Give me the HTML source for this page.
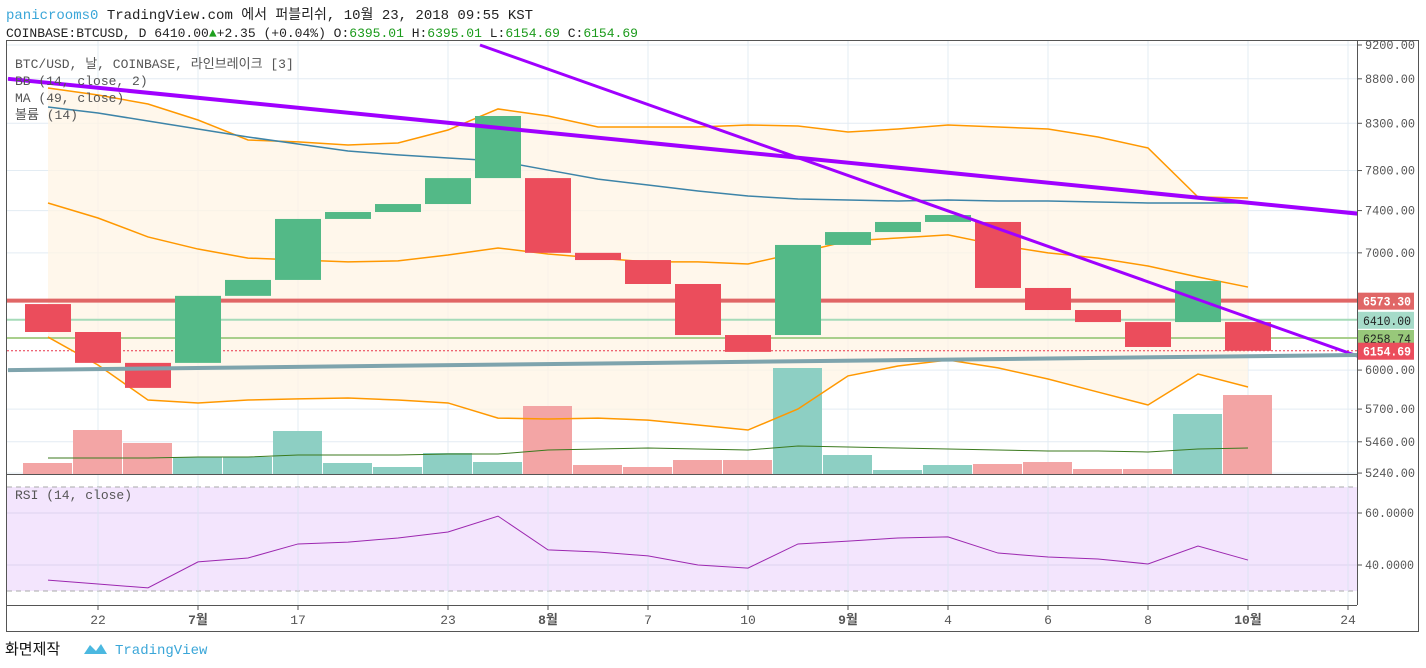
<!DOCTYPE html>
<html><head><meta charset="utf-8">
<style>
html,body{margin:0;padding:0;background:#fff;width:1426px;height:668px;overflow:hidden;font-family:"Liberation Mono","Noto Sans CJK KR",monospace;}
svg text{font-family:"Liberation Mono","Noto Sans CJK KR",monospace;}
</style></head>
<body>
<svg id="chart" width="1426" height="668" xmlns="http://www.w3.org/2000/svg">
<defs><clipPath id="pc"><rect x="7" y="41" width="1350" height="564"/></clipPath></defs>
<text x="6" y="19" font-size="14"><tspan fill="#3aa6d8">panicrooms0</tspan><tspan fill="#222"> TradingView.com 에서 퍼블리쉬, 10월 23, 2018 09:55 KST</tspan></text>
<text x="6" y="37" font-size="13" fill="#222">COINBASE:BTCUSD, D 6410.00<tspan fill="#1ea01e">▲</tspan>+2.35 (+0.04%) O:<tspan fill="#1a9a1a">6395.01</tspan> H:<tspan fill="#1a9a1a">6395.01</tspan> L:<tspan fill="#1a9a1a">6154.69</tspan> C:<tspan fill="#1a9a1a">6154.69</tspan></text>
<g id="grid" clip-path="url(#pc)"></g>
<g id="plot" clip-path="url(#pc)"></g>
<rect x="6.5" y="40.5" width="1412" height="591" fill="none" stroke="#555"/>
<line x1="1357.5" y1="40" x2="1357.5" y2="605" stroke="#555"/>
<line x1="6" y1="474.5" x2="1357" y2="474.5" stroke="#555"/>
<line x1="6" y1="605.5" x2="1357" y2="605.5" stroke="#555"/>
<text x="15" y="68" font-size="13" fill="#555">BTC/USD, 날, COINBASE, 라인브레이크 [3]</text>
<text x="15" y="85" font-size="13" fill="#555">BB (14, close, 2)</text>
<text x="15" y="102" font-size="13" fill="#555">MA (49, close)</text>
<text x="15" y="119" font-size="13" fill="#555">볼륨 (14)</text>
<text x="15" y="499" font-size="13" fill="#555">RSI (14, close)</text>
<g id="axes"></g>
<text x="5" y="654" font-size="15" fill="#111" font-family="Noto Sans CJK KR,sans-serif">화면제작</text>
<path d="M84 654 L90 645 L96 651 L101 644 L107 654 Z" fill="#4bb8e0"/>
<text x="115" y="654" font-size="14" fill="#3aa6d8">TradingView</text>
</svg>
<script>
const opens=[6544,6308,6057,6057,6615,6755,7319,7386,7464,7723,7723,7000,6934,6719,6283,6283,7073,7194,7290,7290,6684,6493,6391,6391,6391];
const closes=[6308,6057,5861,6615,6755,7319,7386,7464,7723,8380,7000,6934,6719,6283,6145,7073,7194,7290,7357,6684,6493,6391,6185,6745,6154];
const bbUpper=[8694,8615,8513,8336,8120,8099,8066,8088,8227,8458,8380,8260,8260,8260,8282,8271,8205,8238,8282,8260,8238,8152,8035,7533,7523];
const bbMiddle=[7474,7328,7148,7035,6952,6934,6917,6926,6980,7045,6989,6952,6917,6917,6898,7000,7110,7138,7167,7072,7000,6952,6880,6781,6692];
const bbLower=[6266,6040,5768,5746,5768,5777,5784,5768,5746,5633,5626,5633,5618,5582,5545,5701,5954,6032,6080,6017,5930,5829,5731,5969,5868];
const ma49=[8480,8413,8325,8238,8152,8077,8003,7962,7930,7899,7805,7713,7653,7593,7543,7514,7504,7494,7504,7494,7494,7484,7474,7474,7474];
const volume=[11,44,31,17,17,43,11,7,21,12,68,9,7,14,14,106,19,4,9,10,12,5,5,60,79];
const volMA=[16,16,16,17,17,19,19,19,20,20,24,25,26,25,24,28,27,26,25,24,23,23,22,25,26];
const rsi=[34.2,32.7,31.2,41.2,42.7,48.1,48.8,50.4,52.7,58.8,45.8,45,43.5,40,38.8,48.1,49.2,50.4,50.8,44.6,43.1,42.3,40.4,47.3,41.9];
const priceTicks=[9200,8800,8300,7800,7400,7000,6000,5700,5460,5240];
const rsiTicks=[60,40];
const timeLabels=["22","7월","17","23","8월","7","10","9월","4","6","8","10월","24"];
const timeIdx=[1,3,5,8,10,12,14,16,18,20,22,24,26];
const trendLines=[[-0.8,8800,26.2,7370],[8.64,9200,26.2,6110],[-0.8,6000,26.2,6120]];
const hLevels=[6573.30,6410.00,6258.74,6154.69];

const NS="http://www.w3.org/2000/svg";
const X=i=>48+i*50;
const Y=v=>45+(Math.log(9200)-Math.log(v))*760.5;
const VY=v=>474-v;
const RY=v=>565-(v-40)*2.6;
function mk(tag,attrs,parent,text){const e=document.createElementNS(NS,tag);for(const k in attrs)e.setAttribute(k,attrs[k]);if(text!==undefined)e.textContent=text;parent.appendChild(e);return e;}
const grid=document.getElementById('grid'),plot=document.getElementById('plot'),axes=document.getElementById('axes');
priceTicks.forEach(v=>{const l=mk('line',{x1:7,x2:1357,y1:Y(v),y2:Y(v),stroke:'#e3ecf3'},grid);

});
timeIdx.forEach(i=>{const l=mk('line',{x1:X(i),x2:X(i),y1:41,y2:605,stroke:'#e3ecf3'},grid);

});
const rb=mk('rect',{x:7,y:RY(70),width:1350,height:RY(30)-RY(70),fill:'#f3e5fd'},grid);


[60,40].forEach(v=>{const l=mk('line',{x1:7,x2:1357,y1:RY(v),y2:RY(v),stroke:'#ddd3f0'},grid);

});
[70,30].forEach(v=>{const l=mk('line',{x1:7,x2:1357,y1:RY(v),y2:RY(v),stroke:'#aaa','stroke-dasharray':'5,4'},grid);

});
timeIdx.forEach(i=>{const l=mk('line',{x1:X(i),x2:X(i),y1:RY(70),y2:RY(30),stroke:'#dde3f3'},grid);

});
let fp='M'+bbUpper.map((v,i)=>X(i)+','+Y(v)).join(' L')+' L'+bbLower.map((v,i)=>X(i)+','+Y(v)).reverse().join(' L')+'Z';
const bf=mk('path',{d:fp,fill:'#fff4e4',opacity:0.75},plot);


volume.forEach((v,i)=>{const up=closes[i]>opens[i];const r=mk('rect',{x:X(i)-25,y:VY(v),width:49,height:v,fill:up?'#8dcfc3':'#f3a5a5'},plot);

});
const vm=mk('polyline',{points:volMA.map((v,i)=>X(i)+','+VY(v)).join(' '),fill:'none',stroke:'#3b7a1e','stroke-width':1},plot);


const hc=['#e06666','#a6dbb9','#a9cf8c','#e8334a'];
const hw=[4,2,2,1];
hLevels.forEach((v,i)=>{const l=mk('line',{x1:7,x2:1357,y1:Y(v),y2:Y(v),stroke:hc[i],'stroke-width':hw[i]},plot);
if(i==3)l.setAttribute('stroke-dasharray','2,2');

});
[[bbUpper,'#ff9800','bb-upper'],[bbMiddle,'#ff9800','bb-middle'],[bbLower,'#ff9800','bb-lower'],[ma49,'#3d84a8','ma-49']].forEach(s=>{
const l=mk('polyline',{points:s[0].map((v,i)=>X(i)+','+Y(v)).join(' '),fill:'none',stroke:s[1],'stroke-width':1.5},plot);

});
opens.forEach((o,i)=>{const c=closes[i];const up=c>o;const t=Math.min(Y(o),Y(c));const r=mk('rect',{x:X(i)-23,y:t,width:46,height:Math.max(1,Math.abs(Y(o)-Y(c))),fill:up?'#53b987':'#eb4d5c'},plot);

});
const tc=['#a000ff','#a000ff','#7fa4ad'],tw=[4,3,4];
trendLines.forEach((t,k)=>{const l=mk('line',{x1:X(t[0]),y1:Y(t[1]),x2:X(t[2]),y2:Y(t[3]),stroke:tc[k],'stroke-width':tw[k]},plot);

});
const rl=mk('polyline',{points:rsi.map((v,i)=>X(i)+','+RY(v)).join(' '),fill:'none',stroke:'#9c27b0','stroke-width':1},plot);


priceTicks.forEach(v=>{const y=Y(v);
const tk=mk('line',{x1:1357,x2:1362,y1:y,y2:y,stroke:'#555'},axes);


const t=mk('text',{x:1365,y:y+4,'font-size':13,fill:'#555','font-family':'Liberation Sans,sans-serif',textLength:50,lengthAdjust:'spacingAndGlyphs'},axes,v.toFixed(2));

});
const lbBg=['#e06666','#a6dbc9','#98c87a','#eb4d5c'],lbFg=['#fff','#222','#222','#fff'];
hLevels.forEach((v,i)=>{const y=Y(v);const r=mk('rect',{x:1358,y:y-8,width:56,height:17,fill:lbBg[i]},axes);


const t=mk('text',{x:1363,y:y+5,'font-size':13,fill:lbFg[i],'font-weight':(i==0||i==3)?'bold':'normal','font-family':'Liberation Sans,sans-serif',textLength:48,lengthAdjust:'spacingAndGlyphs'},axes,v.toFixed(2));

});
rsiTicks.forEach(v=>{const y=RY(v);
const tk=mk('line',{x1:1357,x2:1362,y1:y,y2:y,stroke:'#555'},axes);


const t=mk('text',{x:1365,y:y+4,'font-size':13,fill:'#555','font-family':'Liberation Sans,sans-serif',textLength:49,lengthAdjust:'spacingAndGlyphs'},axes,v.toFixed(4));

});
timeLabels.forEach((s,k)=>{const x=X(timeIdx[k]);
const tk=mk('line',{x1:x,x2:x,y1:605,y2:610,stroke:'#555'},axes);


const t=mk('text',{x:x,y:624,'font-size':13,fill:'#555','text-anchor':'middle','font-weight':s.includes('월')?'bold':'normal','font-family':'Liberation Sans,Noto Sans CJK KR,sans-serif'},axes,s);

});
</script>
</body></html>
